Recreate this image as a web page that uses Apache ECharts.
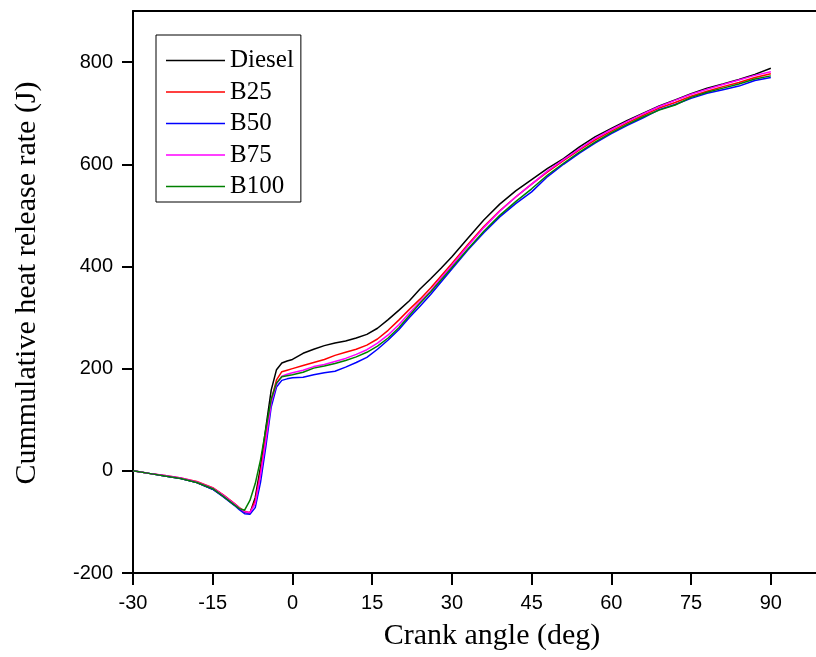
<!DOCTYPE html>
<html>
<head>
<meta charset="utf-8">
<title>Cumulative heat release</title>
<script src="https://cdn.jsdelivr.net/npm/echarts@6/dist/echarts.min.js"></script>
<style>
  html, body { margin: 0; padding: 0; background: #fff; }
  #chart { width: 816px; height: 657px; }
</style>
</head>
<body>
<div id="chart"></div>
<script>
// Crank angle positions (deg)
const angles = [-30,-27,-24,-21,-18,-15,-13,-11,-10,-9,-8,-7,-6,-5,-4,-3,-2,-1,0,
  2,4,6,8,10,12,14,16,18,20,22,24,26,28,30,
  33,36,39,42,45,48,51,54,57,60,63,66,69,72,75,78,81,84,87,90];

// Cumulative heat release (J) for each fuel
const diesel = [0,-5,-10,-15,-23,-36,-50,-66,-74,-81,-83,-52,8,85,158,198,211,215,218,
  230,238,245,250,254,260,267,279,296,314,333,356,376,397,419,
  455,491,522,548,570,592,611,634,654,670,686,700,714,726,738,749,757,766,776,788];
const b25 = [0,-5,-9,-14,-21,-33,-47,-63,-72,-79,-82,-58,-2,68,138,178,194,197,200,
  206,212,218,226,232,238,246,258,275,295,316,336,358,382,406,
  443,478,509,536,561,585,607,628,648,665,681,696,710,721,733,743,752,760,770,777];
const b50 = [0,-5,-10,-15,-23,-36,-51,-67,-76,-84,-85,-72,-22,48,125,164,177,180,182,
  183,188,192,195,203,212,222,238,256,276,300,322,345,370,395,
  432,466,497,523,546,576,600,622,642,660,676,691,707,717,729,739,746,753,764,770];
const b75 = [0,-5,-9,-14,-22,-34,-48,-64,-73,-80,-82,-64,-8,60,133,170,185,189,192,
  197,204,208,214,220,228,237,250,266,286,309,331,352,378,402,
  440,476,508,536,561,587,609,630,651,668,684,699,713,725,737,747,756,765,774,781];
const b100 = [0,-5,-10,-15,-23,-35,-50,-66,-74,-77,-58,-25,22,82,140,172,184,186,188,
  193,201,205,210,216,223,232,244,260,280,304,328,350,374,398,
  434,469,500,527,552,579,602,624,644,662,678,693,706,716,731,741,749,757,767,773];

// Axis ticks
const xTicks = [-30,-15,0,15,30,45,60,75,90];
const yTicks = [-200,0,200,400,600,800];

const seriesDefs = [
  { name: 'Diesel', values: diesel, color: '#000000' },
  { name: 'B25',    values: b25,    color: '#ff0000' },
  { name: 'B50',    values: b50,    color: '#0000ff' },
  { name: 'B75',    values: b75,    color: '#ff00ff' },
  { name: 'B100',   values: b100,   color: '#008000' }
];

const serif = '"Liberation Serif", "Times New Roman", serif';
const sans = '"Liberation Sans", Arial, sans-serif';

const chart = echarts.init(document.getElementById('chart'), null, { renderer: 'canvas' });

chart.setOption({
  animation: false,
  backgroundColor: '#ffffff',
  grid: { left: 133, top: 11, right: 0, bottom: 84, containLabel: false },
  legend: {
    orient: 'vertical',
    left: 156,
    top: 35,
    icon: 'rect',
    itemWidth: 59,
    itemHeight: 1.6,
    itemGap: 6.5,
    padding: [13, 7, 3, 10],
    borderColor: '#000000',
    borderWidth: 1,
    backgroundColor: '#ffffff',
    textStyle: { fontFamily: serif, fontSize: 25, color: '#000000', lineHeight: 25 },
    data: seriesDefs.map(s => s.name)
  },
  xAxis: [{
    type: 'value',
    min: -30,
    max: 98.5,
    interval: 15,
    axisLine: { onZero: false, lineStyle: { color: '#000000', width: 2 } },
    axisTick: { show: true, inside: false, length: 12, customValues: xTicks,
      lineStyle: { color: '#000000', width: 2 } },
    axisLabel: { margin: 20, customValues: xTicks, fontFamily: sans, fontSize: 20, color: '#000000' },
    splitLine: { show: false }
  }, {
    type: 'value',
    position: 'top',
    min: -30,
    max: 98.5,
    axisLine: { onZero: false, lineStyle: { color: '#000000', width: 2 } },
    axisTick: { show: false },
    axisLabel: { show: false },
    splitLine: { show: false }
  }],
  yAxis: {
    type: 'value',
    min: -200,
    max: 900,
    interval: 200,
    axisLine: { show: true, onZero: false, lineStyle: { color: '#000000', width: 2 } },
    axisTick: { show: true, inside: false, length: 11, customValues: yTicks,
      lineStyle: { color: '#000000', width: 2 } },
    axisLabel: { margin: 20, customValues: yTicks, fontFamily: sans, fontSize: 20, color: '#000000' },
    splitLine: { show: false }
  },
  graphic: [{
    type: 'text',
    x: 27,
    y: 283,
    rotation: Math.PI / 2,
    style: {
      text: 'Cummulative heat release rate (J)',
      fontFamily: serif,
      fontSize: 30,
      fill: '#000000',
      align: 'center',
      verticalAlign: 'middle'
    }
  }, {
    type: 'text',
    x: 492,
    y: 636,
    style: {
      text: 'Crank angle (deg)',
      fontFamily: serif,
      fontSize: 30,
      fill: '#000000',
      align: 'center',
      verticalAlign: 'middle'
    }
  }],
  series: seriesDefs.map(s => ({
    name: s.name,
    type: 'line',
    xAxisIndex: 0,
    showSymbol: false,
    symbol: 'none',
    smooth: false,
    color: s.color,
    lineStyle: { color: s.color, width: 1.5 },
    data: angles.map((a, i) => [a, s.values[i]])
  }))
});
</script>
</body>
</html>
